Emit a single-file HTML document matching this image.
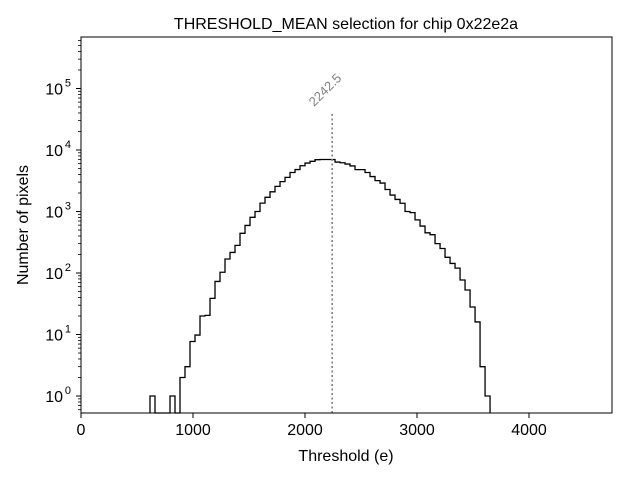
<!DOCTYPE html>
<html><head><meta charset="utf-8"><style>
body{margin:0;background:#fff}
svg{display:block;font-family:"Liberation Sans","DejaVu Sans",sans-serif}
</style></head><body>
<svg id="chart" width="640" height="480" viewBox="0 0 640 480" xmlns="http://www.w3.org/2000/svg">
<rect width="640" height="480" fill="#fff"/>
<text x="346" y="29" font-size="16" text-anchor="middle">THRESHOLD_MEAN selection for chip 0x22e2a</text>
<text x="346" y="461" font-size="16" text-anchor="middle">Threshold (e)</text>
<text transform="translate(28,225) rotate(-90)" font-size="16" text-anchor="middle">Number of pixels</text>
<g id="plot"></g>
</svg>
<script>
const binStart = 616;
const binWidth = 44.65;
const counts = [1,0,0,0,1,0,2,3,7.7,9.8,20,20.5,38.7,73,103,169,216,281,442,594,805,1000,1370,1700,2090,2560,3060,3590,4310,4810,5540,6130,6550,6960,7000,7000,7000,6370,6200,5900,5500,4800,4800,4310,3700,3180,2900,2280,1850,1570,1360,1000,960,730,580,450,420,300,250,180,143,120,77,53,28,16,3,1];
const xTicks = [0,1000,2000,3000,4000];
const yTickExps = [0,1,2,3,4,5];
const selectedValue = 2242.5;

const L=81,R=612,T=37,B=413;
const xMax=4741;
const logMin=-0.276, logMax=5.837;
const xs=v=>L+(v/xMax)*(R-L);
const ys=v=>B-(Math.log10(v)-logMin)/(logMax-logMin)*(B-T);
const NS="http://www.w3.org/2000/svg";
const g=document.getElementById('plot');
function mk(tag,attrs){const e=document.createElementNS(NS,tag);for(const k in attrs)e.setAttribute(k,attrs[k]);g.appendChild(e);return e;}

// histogram step
let d="", prevY=B;
for(let i=0;i<counts.length;i++){
  const x0=xs(binStart+i*binWidth), x1=xs(binStart+(i+1)*binWidth);
  const y=counts[i]>0?ys(counts[i]):B;
  if(i===0) d+="M"+x0+","+B;
  d+=" L"+x0+","+y+" L"+x1+","+y;
}
d+=" L"+xs(binStart+counts.length*binWidth)+","+B;
const h=mk('path',{d:d,fill:'none',stroke:'#000','stroke-width':1.3});



// selection line
const sx=xs(selectedValue);
const vl=mk('line',{x1:sx,x2:sx,y1:B,y2:ys(40000),stroke:'#808080','stroke-width':1.6,'stroke-dasharray':'2,2.5'});


const lt=mk('text',{x:sx-18,y:ys(40000)-6,'font-size':13,fill:'#808080',transform:'rotate(-45 '+(sx-18)+' '+(ys(40000)-6)+')'});
lt.textContent=String(selectedValue);



// frame
const fr=mk('rect',{x:L,y:T,width:R-L,height:B-T,fill:'none',stroke:'#000','stroke-width':1});



// x ticks
xTicks.forEach(v=>{
  const x=xs(v);
  const t=mk('line',{x1:x,x2:x,y1:B,y2:B+5,stroke:'#000'});
  
  
  const l=mk('text',{x:x,y:B+22,'font-size':16,'text-anchor':'middle'});
  l.textContent=v;
  
  
});
// y ticks
yTickExps.forEach(e=>{
  const y=ys(Math.pow(10,e));
  const t=mk('line',{x1:L-5,x2:L,y1:y,y2:y,stroke:'#000'});
  
  
  const l=mk('text',{x:L-18,y:y+6,'font-size':16,'text-anchor':'end'});
  l.textContent='10';
  
  
  const s=mk('text',{x:L-10,y:y-2,'font-size':11,'text-anchor':'end'});
  s.textContent=e;
  
  
});
for(let e=-1;e<=5;e++){for(let m=2;m<=9;m++){
  const v=m*Math.pow(10,e);const lv=Math.log10(v);
  if(lv<logMin||lv>logMax)continue;
  const y=ys(v);
  const t=mk('line',{x1:L-3,x2:L,y1:y,y2:y,stroke:'#000','stroke-width':0.8});
  
  
}}
</script>
</body></html>
